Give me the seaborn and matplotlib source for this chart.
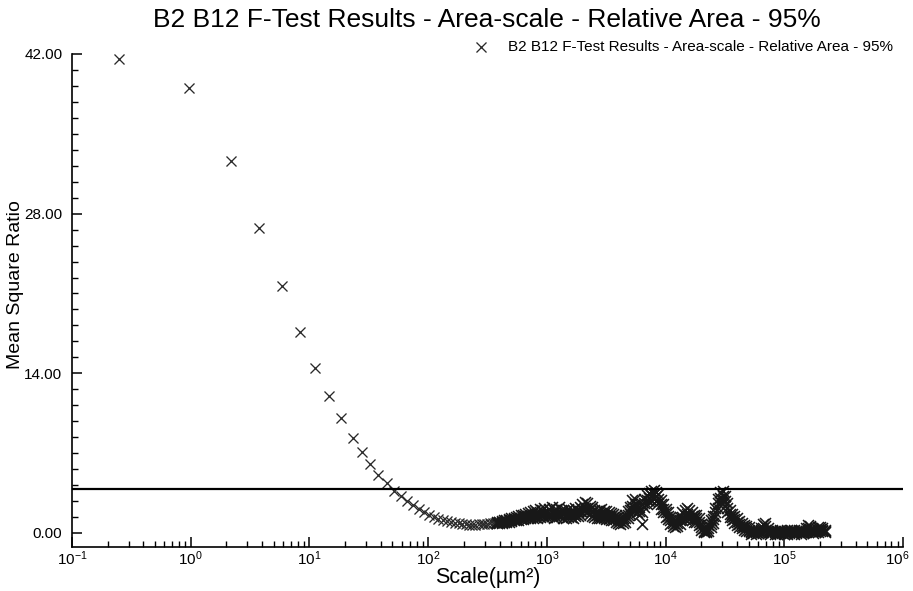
import numpy as np
import pandas as pd
import matplotlib
matplotlib.use("Agg")
import matplotlib.pyplot as plt
import matplotlib.transforms as mtransforms
import seaborn as sns
from matplotlib.ticker import FixedLocator, MultipleLocator, LogLocator, FuncFormatter, NullFormatter

# ---------------- data ----------------
series_label = "B2 B12 F-Test Results - Area-scale - Relative Area - 95%"
title_text = "B2 B12 F-Test Results - Area-scale - Relative Area - 95%"
x_label = "Scale(\u00b5m\u00b2)"
y_label = "Mean Square Ratio"
threshold = 3.84
y_ticks = [0, 14, 28, 42]
x_ticks = [1e-1, 1e0, 1e1, 1e2, 1e3, 1e4, 1e5, 1e6]

# sparse (fine) scales
early_scale = [0.25, 0.97, 2.17, 3.78, 5.84, 8.38, 11.2, 14.7, 18.5, 23.2, 27.6, 32.4, 38.1, 44.8,
               51.75, 58.9, 66.5, 74.5, 83.0, 92.0, 101.4, 111.3, 121.7, 132.5, 143.8, 155.5,
               167.7, 180.3, 193.4, 207, 221, 235.5, 250.5, 265.9, 281.8, 298.1, 314.9, 332.1,
               349.8, 368]
early_ratio = [41.58, 39.0, 32.66, 26.73, 21.67, 17.66, 14.45, 12.02, 10.06, 8.31, 7.08, 6.05, 5.09, 4.36,
               3.7, 3.22, 2.8, 2.43, 2.1, 1.83, 1.6, 1.41, 1.25, 1.12, 1.03, 0.96,
               0.9, 0.84, 0.8, 0.76, 0.72, 0.7, 0.72, 0.75, 0.78, 0.8, 0.82, 0.84,
               0.86, 0.88]

# dense (coarse) scales
dense_scale = [380.2, 398.1, 416.9, 436.5, 457.1, 478.6, 501.2, 524.8, 549.5, 575.4,
               602.6, 631.0, 660.7, 691.8, 724.4, 758.6, 794.3, 831.8, 871.0, 912.0,
               955.0, 1000, 1047, 1096, 1148, 1202, 1259, 1318, 1380, 1445,
               1514, 1585, 1660, 1738, 1820, 1905, 1995, 2089, 2188, 2291,
               2399, 2512, 2630, 2754, 2884, 3020, 3162, 3311, 3467, 3631,
               3802, 3981, 4169, 4365, 4571, 4786, 5012, 5248, 5495, 5754,
               6026, 6310, 6607, 6918, 7244, 7586, 7943, 8318, 8710, 9120,
               9550, 10000, 10470, 10960, 11480, 12020, 12590, 13180, 13800, 14450,
               15140, 15850, 16600, 17380, 18200, 19050, 19950, 20890, 21880, 22910,
               23990, 25120, 26300, 27540, 28840, 30200, 31620, 33110, 34670, 36310,
               38020, 39810, 41690, 43650, 45710, 47860, 50120, 52480, 54950, 57540,
               60260, 63100, 66070, 69180, 72440, 75860, 79430, 83180, 87100, 91200,
               95500, 100000, 104700, 109600, 114800, 120200, 125900, 131800, 138000, 144500,
               151400, 158500, 166000, 173800, 182000, 190500, 199500, 208900, 218800]
dense_ratio_a = [0.95, 0.85, 1.05, 0.92, 1.15, 1.0, 1.3, 1.1, 1.4, 1.18,
                 1.55, 1.25, 1.7, 1.3, 1.8, 1.35, 2.0, 1.35, 2.1, 1.45,
                 2.2, 1.4, 2.1, 1.5, 2.0, 1.4, 2.3, 1.45, 2.0, 1.35,
                 2.1, 1.4, 2.05, 1.45, 2.0, 1.6, 2.5, 1.9, 2.6, 1.7,
                 2.3, 1.4, 1.95, 1.3, 2.1, 1.3, 1.9, 1.2, 1.75, 1.1,
                 1.55, 0.9, 1.3, 0.85, 1.6, 1.3, 2.3, 2.9, 2.2, 2.5,
                 1.6, 2.5, 2.3, 3.3, 2.8, 3.7, 3.0, 3.6, 2.6, 2.9,
                 1.8, 2.1, 1.2, 1.4, 0.6, 1.1, 0.6, 1.4, 1.1, 2.0,
                 1.3, 2.0, 1.1, 1.6, 1.0, 1.3, 0.3, 0.45, 0.05, 0.7,
                 0.5, 1.5, 1.5, 3.0, 2.7, 3.7, 2.4, 2.6, 1.4, 1.7,
                 0.9, 1.3, 0.55, 0.85, 0.3, 0.6, 0.15, 0.2, 0.0, 0.15,
                 0.3, 0.05, 0.8, 0.3, 0.0, 0.2, 0.05, 0.2, -0.05, 0.25,
                 0.0, 0.15, -0.05, 0.2, 0.05, 0.3, 0.0, 0.25, -0.05, 0.2,
                 0.4, 0.1, 0.6, 0.0, 0.3, 0.1, 0.55, 0.2, 0.3]
dense_ratio_b = [0.85, 1.0, 0.88, 1.1, 0.95, 1.22, 1.05, 1.35, 1.12, 1.45,
                 1.2, 1.6, 1.3, 1.75, 1.35, 1.9, 1.4, 1.85, 1.4, 2.0,
                 1.4, 1.95, 1.45, 2.25, 1.35, 2.1, 1.5, 2.0, 1.3, 1.95,
                 1.4, 1.9, 1.35, 2.2, 1.5, 2.3, 1.8, 2.7, 1.8, 2.4,
                 1.5, 2.0, 1.3, 2.0, 1.35, 1.9, 1.2, 1.8, 1.15, 1.7,
                 1.0, 1.4, 0.8, 1.35, 1.0, 1.9, 1.7, 2.0, 3.0, 1.8,
                 2.3, 0.8, 3.0, 2.5, 3.5, 2.9, 3.8, 2.8, 3.4, 2.1,
                 2.5, 1.4, 1.8, 0.8, 1.2, 0.5, 1.2, 0.8, 1.8, 1.2,
                 2.2, 1.2, 1.8, 1.0, 1.6, 0.7, 0.8, 0.05, 0.4, 0.2,
                 1.1, 0.9, 2.2, 2.2, 3.6, 2.8, 3.2, 1.8, 2.0, 1.1,
                 1.5, 0.7, 1.05, 0.4, 0.7, 0.2, 0.5, -0.05, 0.25, -0.1,
                 0.0, 0.45, 0.1, 0.9, 0.4, -0.05, 0.25, -0.1, 0.15, 0.0,
                 0.2, -0.1, 0.3, 0.0, 0.25, -0.05, 0.2, 0.05, 0.3, 0.0,
                 0.05, 0.7, 0.15, 0.3, 0.05, 0.5, 0.15, 0.45, 0.05]
dense_ratio_c = [0.9, 0.92, 0.95, 1.0, 1.05, 1.1, 1.15, 1.2, 1.25, 1.3,
                 1.35, 1.4, 1.45, 1.5, 1.5, 1.55, 1.6, 1.6, 1.65,
                 1.7, 1.7, 1.7, 1.7, 1.75, 1.75, 1.7, 1.7, 1.75, 1.7,
                 1.65, 1.65, 1.7, 1.65, 1.7, 1.8, 1.9,
                 2.1, 2.2, 2.2, 2.1, 1.9, 1.7, 1.6, 1.6, 1.65, 1.6,
                 1.55, 1.5, 1.45, 1.4, 1.3, 1.15, 1.05, 1.1, 1.3,
                 1.6, 2.0, 2.4, 2.5, 2.2, 1.9, 1.8, 2.6, 2.9, 3.1,
                 3.3, 3.4, 3.2, 3.0, 2.5, 2.1, 1.8, 1.5,
                 1.1, 0.9, 0.8, 0.9, 1.1, 1.4, 1.6, 1.7, 1.6, 1.45,
                 1.3, 1.3, 1.0,
                 0.5, 0.2, 0.2, 0.4, 0.8, 1.2, 1.8, 2.6, 3.1, 3.2,
                 2.8, 2.2, 1.7, 1.4, 1.2, 1.0, 0.8, 0.6, 0.5, 0.4, 0.3,
                 0.08, 0.12, 0.05, 0.15, 0.25, 0.45, 0.6, 0.2, 0.08, 0.15,
                 0.05, 0.1, 0.12, 0.1, 0.05, 0.12, 0.1, 0.15, 0.12, 0.1,
                 0.15, 0.12, 0.1, 0.2, 0.4, 0.35, 0.15, 0.18, 0.3, 0.35,
                 0.3, 0.18]

# ---------------- styling ----------------
sns.set_style("white")
plt.rcParams["font.family"] = ["Liberation Sans", "DejaVu Sans"]
plt.rcParams["mathtext.fontset"] = "custom"
plt.rcParams["mathtext.rm"] = "Liberation Sans"
plt.rcParams["mathtext.it"] = "Liberation Sans:italic"
plt.rcParams["mathtext.bf"] = "Liberation Sans:bold"
plt.rcParams["text.color"] = "black"
plt.rcParams["axes.labelcolor"] = "black"
plt.rcParams["xtick.color"] = "black"
plt.rcParams["ytick.color"] = "black"

W, H = 913, 591
fig = plt.figure(figsize=(W / 100, H / 100), dpi=100)
ax = fig.add_axes([72 / W, 1 - 547 / H, (903 - 72) / W, (547 - 54) / H])

df_sparse = pd.DataFrame({"scale": early_scale, "ratio": early_ratio})
df_dense = pd.DataFrame({
    "scale": dense_scale + dense_scale + dense_scale,
    "ratio": dense_ratio_a + dense_ratio_b + dense_ratio_c,
})

ax.set_xscale("log")
sns.scatterplot(data=df_sparse, x="scale", y="ratio", marker="x", s=52, color="#2a2a2a",
                linewidth=0.95, ax=ax, label=series_label, legend=False)
sns.scatterplot(data=df_dense, x="scale", y="ratio", marker="x", s=62, color="#181818",
                linewidth=1.15, ax=ax, legend=False)

ax.axhline(threshold, color="black", lw=1.6, zorder=3)

ax.set_xlim(0.1, 1e6)
ax.set_ylim(-1.23, 42)

for side in ("top", "right"):
    ax.spines[side].set_visible(False)
for side in ("left", "bottom"):
    ax.spines[side].set_color("black")
    ax.spines[side].set_linewidth(1.2)

ax.yaxis.set_major_locator(FixedLocator(y_ticks))
ax.yaxis.set_minor_locator(MultipleLocator(1.4))
ax.yaxis.set_major_formatter(FuncFormatter(lambda v, p: "%.2f" % v))
ax.xaxis.set_major_locator(FixedLocator(x_ticks))
ax.xaxis.set_minor_locator(LogLocator(base=10, subs=np.arange(2, 10), numticks=100))
ax.xaxis.set_major_formatter(FuncFormatter(lambda v, p: r"$10^{%d}$" % int(round(np.log10(v)))))
ax.xaxis.set_minor_formatter(NullFormatter())

ax.tick_params(axis="both", which="major", direction="in", length=7, width=1.1,
               labelsize=11, colors="black", left=True, bottom=True)
ax.tick_params(axis="both", which="minor", direction="in", length=4, width=1.0,
               left=True, bottom=True, colors="black")
ax.tick_params(axis="y", which="major", pad=7)
ax.tick_params(axis="x", which="major", pad=1.5)

# nudge the last decade label inward so it stays inside the figure
fig.canvas.draw()
last_tick = ax.xaxis.get_major_ticks()[len(x_ticks) - 1]
last_tick.label1.set_transform(last_tick.label1.get_transform()
                               + mtransforms.ScaledTranslation(-6 / 100, 0, fig.dpi_scale_trans))

ax.set_xlabel("")
ax.set_ylabel("")
fig.text(488 / W, 1 - 578 / H, x_label, ha="center", va="center", fontsize=15.5)
fig.text(16 / W, 1 - 285 / H, y_label, ha="center", va="center", rotation=90, fontsize=14)
fig.text(487 / W, 1 - 20 / H, title_text, ha="center", va="center", fontsize=19)

leg = ax.legend(loc="center right", bbox_to_anchor=(901 / W, 1 - 47 / H),
                bbox_transform=fig.transFigure, frameon=False, fontsize=11,
                borderpad=0, handlelength=1.2, handletextpad=1.2)

fig.savefig("out.png", dpi=100)
